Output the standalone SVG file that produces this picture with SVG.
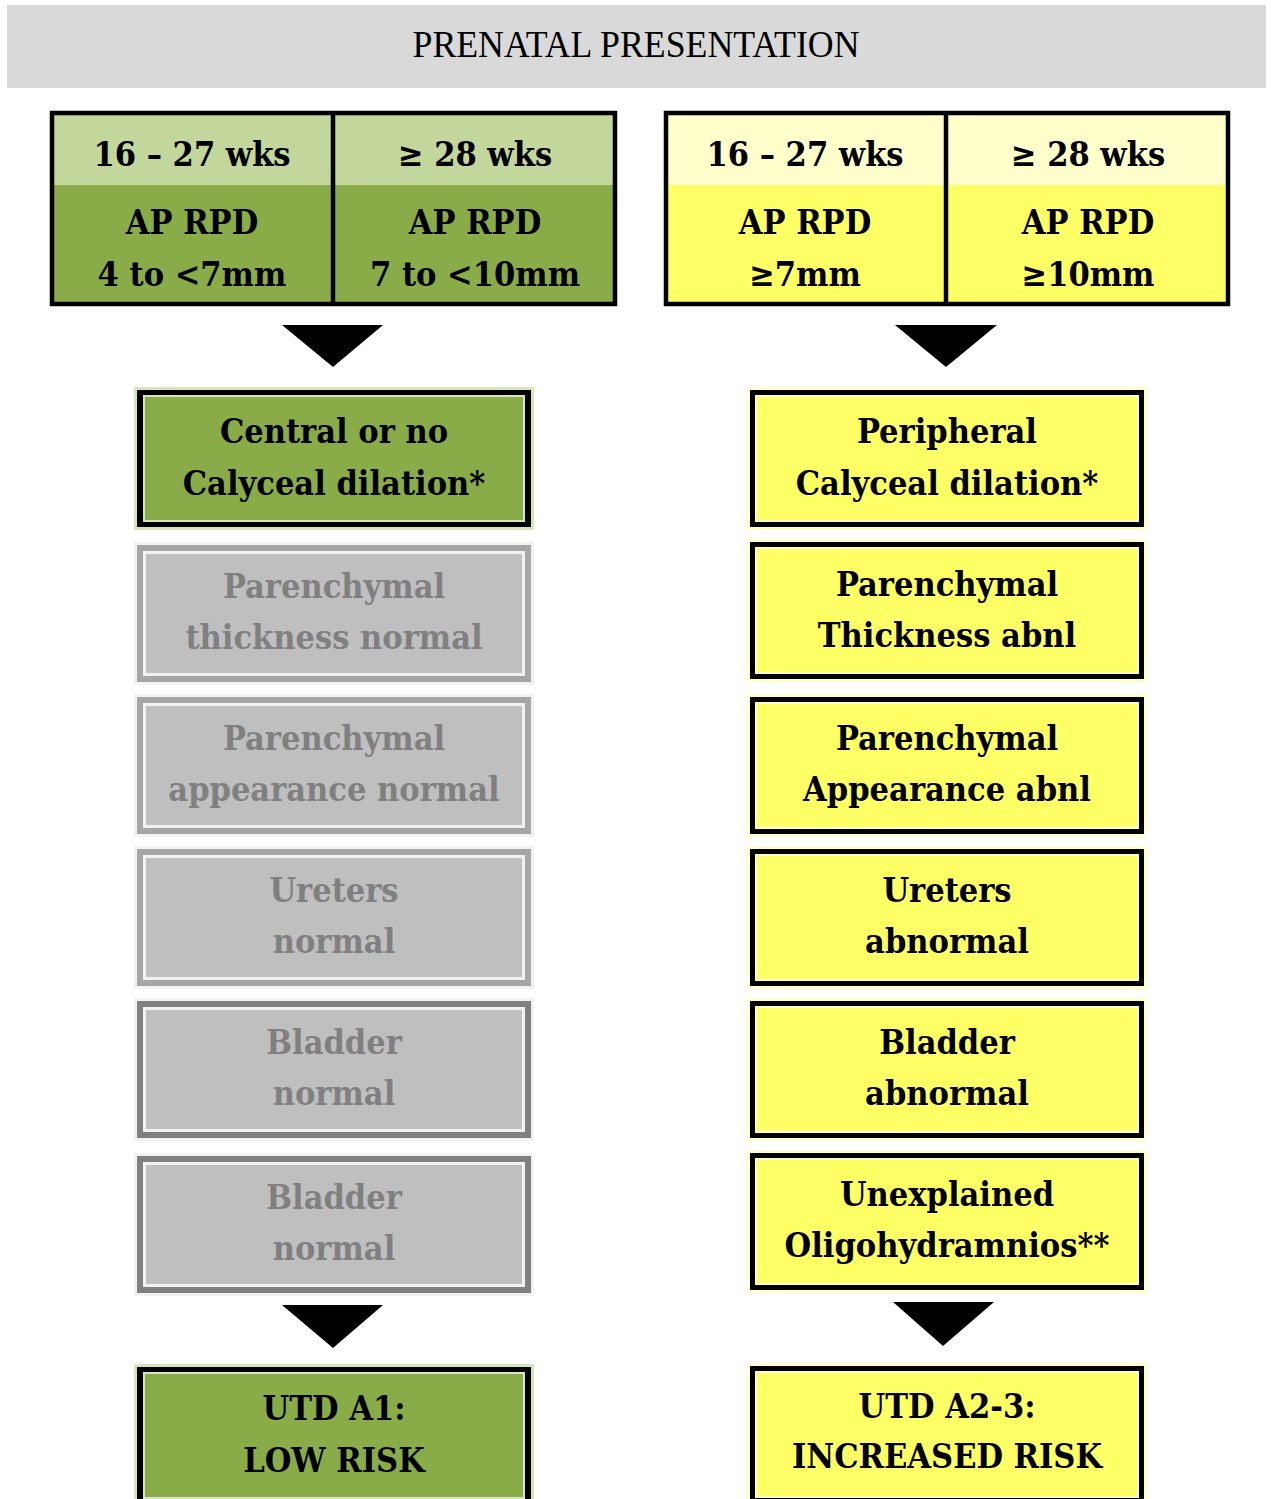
<svg xmlns="http://www.w3.org/2000/svg" width="1271" height="1499" viewBox="0 0 1271 1499">
<style>
  .t { font-family: "DejaVu Serif Condensed", "DejaVu Serif", "Liberation Serif", serif; font-stretch: condensed; font-weight: bold; text-anchor: middle; font-size: 34px; fill: #000; }
  .tt { font-size: 34px; }
  .g { fill: #808080; }
  .hdr { font-family: "Liberation Serif", "DejaVu Serif", serif; font-size: 37px; text-anchor: middle; fill: #000; }
  .arrow { fill: #000; }
</style>
<rect width="1271" height="1499" fill="#ffffff"/>

<g id="header">
  <rect x="7" y="5" width="1259" height="83" fill="#d9d9d9"/>
  <text class="hdr" x="636" y="57" textLength="447" lengthAdjust="spacingAndGlyphs">PRENATAL PRESENTATION</text>
</g>

<g id="table-low">
  <rect x="50" y="111" width="567" height="74" fill="#c3d69b"/>
  <rect x="50" y="185" width="567" height="121" fill="#8aac48"/>
  <rect x="52" y="113" width="563" height="191" fill="none" stroke="#000" stroke-width="4.5"/>
  <line x1="333" y1="111" x2="333" y2="306" stroke="#000" stroke-width="4.5"/>
  <text class="t tt" x="192" y="166">16 – 27 wks</text>
  <text class="t tt" x="475" y="166">≥ 28 wks</text>
  <text class="t tt" x="192" y="234">AP RPD</text>
  <text class="t tt" x="192" y="286">4 to &lt;7mm</text>
  <text class="t tt" x="475" y="234">AP RPD</text>
  <text class="t tt" x="475" y="286">7 to &lt;10mm</text>
</g>

<g id="table-high">
  <rect x="664" y="111" width="566" height="74" fill="#ffffcc"/>
  <rect x="664" y="185" width="566" height="121" fill="#ffff66"/>
  <rect x="666" y="113" width="562" height="191" fill="none" stroke="#000" stroke-width="4.5"/>
  <line x1="946" y1="111" x2="946" y2="306" stroke="#000" stroke-width="4.5"/>
  <text class="t tt" x="805" y="166">16 – 27 wks</text>
  <text class="t tt" x="1088" y="166">≥ 28 wks</text>
  <text class="t tt" x="805" y="234">AP RPD</text>
  <text class="t tt" x="805" y="286">≥7mm</text>
  <text class="t tt" x="1088" y="234">AP RPD</text>
  <text class="t tt" x="1088" y="286">≥10mm</text>
</g>

<g id="connectors">
  <polygon class="arrow" points="282,325 383,325 333,367"/>
  <polygon class="arrow" points="895,325 997,325 946,367"/>
  <polygon class="arrow" points="282,1305 383,1305 333,1348"/>
  <polygon class="arrow" points="893,1302 994,1302 943,1346"/>
</g>

<!-- Left column -->
<g id="central">
  <rect x="134" y="387" width="400" height="143" fill="#d7e4bc"/>
  <rect x="137" y="390" width="394" height="137" fill="#000"/>
  <rect x="143" y="395" width="382" height="127" fill="#d7e4bc"/>
  <rect x="145" y="397" width="378" height="123" fill="#8aac48"/>
  <text class="t" x="334" y="443">Central or no</text>
  <text class="t" x="334" y="495">Calyceal dilation*</text>
</g>

<g id="par-thick-normal">
  <rect x="134" y="542" width="400" height="143" fill="#f2f2f2"/>
  <rect x="137" y="545" width="394" height="137" fill="#a6a6a6"/>
  <rect x="143" y="551" width="382" height="125" fill="#f2f2f2"/>
  <rect x="146" y="554" width="376" height="119" fill="#bfbfbf"/>
  <text class="t g" x="334" y="598">Parenchymal</text>
  <text class="t g" x="334" y="649">thickness normal</text>
</g>

<g id="par-app-normal">
  <rect x="134" y="694" width="400" height="143" fill="#f2f2f2"/>
  <rect x="137" y="697" width="394" height="137" fill="#a6a6a6"/>
  <rect x="143" y="703" width="382" height="125" fill="#f2f2f2"/>
  <rect x="146" y="706" width="376" height="119" fill="#bfbfbf"/>
  <text class="t g" x="334" y="750">Parenchymal</text>
  <text class="t g" x="334" y="801">appearance normal</text>
</g>

<g id="ureters-normal">
  <rect x="134" y="846" width="400" height="143" fill="#f2f2f2"/>
  <rect x="137" y="849" width="394" height="137" fill="#a6a6a6"/>
  <rect x="143" y="855" width="382" height="125" fill="#f2f2f2"/>
  <rect x="146" y="858" width="376" height="119" fill="#bfbfbf"/>
  <text class="t g" x="334" y="902">Ureters</text>
  <text class="t g" x="334" y="953">normal</text>
</g>

<g id="bladder-normal-1">
  <rect x="134" y="998" width="400" height="143" fill="#f2f2f2"/>
  <rect x="137" y="1001" width="394" height="137" fill="#808080"/>
  <rect x="143" y="1007" width="382" height="125" fill="#f2f2f2"/>
  <rect x="146" y="1010" width="376" height="119" fill="#bfbfbf"/>
  <text class="t g" x="334" y="1054">Bladder</text>
  <text class="t g" x="334" y="1105">normal</text>
</g>

<g id="bladder-normal-2">
  <rect x="134" y="1153" width="400" height="143" fill="#f2f2f2"/>
  <rect x="137" y="1156" width="394" height="137" fill="#808080"/>
  <rect x="143" y="1162" width="382" height="125" fill="#f2f2f2"/>
  <rect x="146" y="1165" width="376" height="119" fill="#bfbfbf"/>
  <text class="t g" x="334" y="1209">Bladder</text>
  <text class="t g" x="334" y="1260">normal</text>
</g>

<g id="utd-a1">
  <rect x="134" y="1364" width="400" height="143" fill="#d7e4bc"/>
  <rect x="137" y="1367" width="394" height="137" fill="#000"/>
  <rect x="143" y="1372" width="382" height="127" fill="#d7e4bc"/>
  <rect x="145" y="1374" width="378" height="123" fill="#8aac48"/>
  <text class="t" x="334" y="1420">UTD A1:</text>
  <text class="t" x="334" y="1472">LOW RISK</text>
</g>

<!-- Right column -->
<g id="peripheral">
  <rect x="747" y="387" width="400" height="143" fill="#ffffcc"/>
  <rect x="750" y="390" width="394" height="137" fill="#000"/>
  <rect x="755" y="395" width="384" height="127" fill="#ffffcc"/>
  <rect x="757" y="397" width="380" height="123" fill="#ffff66"/>
  <text class="t" x="947" y="443">Peripheral</text>
  <text class="t" x="947" y="495">Calyceal dilation*</text>
</g>

<g id="par-thick-abnl">
  <rect x="747" y="539" width="400" height="143" fill="#ffffcc"/>
  <rect x="750" y="542" width="394" height="137" fill="#000"/>
  <rect x="755" y="547" width="384" height="127" fill="#ffffcc"/>
  <rect x="757" y="549" width="380" height="123" fill="#ffff66"/>
  <text class="t" x="947" y="596">Parenchymal</text>
  <text class="t" x="947" y="647">Thickness abnl</text>
</g>

<g id="par-app-abnl">
  <rect x="747" y="694" width="400" height="143" fill="#ffffcc"/>
  <rect x="750" y="697" width="394" height="137" fill="#000"/>
  <rect x="755" y="702" width="384" height="127" fill="#ffffcc"/>
  <rect x="757" y="704" width="380" height="123" fill="#ffff66"/>
  <text class="t" x="947" y="750">Parenchymal</text>
  <text class="t" x="947" y="801">Appearance abnl</text>
</g>

<g id="ureters-abnormal">
  <rect x="747" y="846" width="400" height="143" fill="#ffffcc"/>
  <rect x="750" y="849" width="394" height="137" fill="#000"/>
  <rect x="755" y="854" width="384" height="127" fill="#ffffcc"/>
  <rect x="757" y="856" width="380" height="123" fill="#ffff66"/>
  <text class="t" x="947" y="902">Ureters</text>
  <text class="t" x="947" y="953">abnormal</text>
</g>

<g id="bladder-abnormal">
  <rect x="747" y="998" width="400" height="143" fill="#ffffcc"/>
  <rect x="750" y="1001" width="394" height="137" fill="#000"/>
  <rect x="755" y="1006" width="384" height="127" fill="#ffffcc"/>
  <rect x="757" y="1008" width="380" height="123" fill="#ffff66"/>
  <text class="t" x="947" y="1054">Bladder</text>
  <text class="t" x="947" y="1105">abnormal</text>
</g>

<g id="oligo">
  <rect x="747" y="1150" width="400" height="143" fill="#ffffcc"/>
  <rect x="750" y="1153" width="394" height="137" fill="#000"/>
  <rect x="755" y="1158" width="384" height="127" fill="#ffffcc"/>
  <rect x="757" y="1160" width="380" height="123" fill="#ffff66"/>
  <text class="t" x="947" y="1206">Unexplained</text>
  <text class="t" x="947" y="1257">Oligohydramnios**</text>
</g>

<g id="utd-a23">
  <rect x="747" y="1363" width="400" height="143" fill="#ffffcc"/>
  <rect x="750" y="1366" width="394" height="137" fill="#000"/>
  <rect x="755" y="1371" width="384" height="127" fill="#ffffcc"/>
  <rect x="757" y="1373" width="380" height="123" fill="#ffff66"/>
  <text class="t" x="947" y="1418">UTD A2-3:</text>
  <text class="t" x="947" y="1468">INCREASED RISK</text>
</g>
</svg>
